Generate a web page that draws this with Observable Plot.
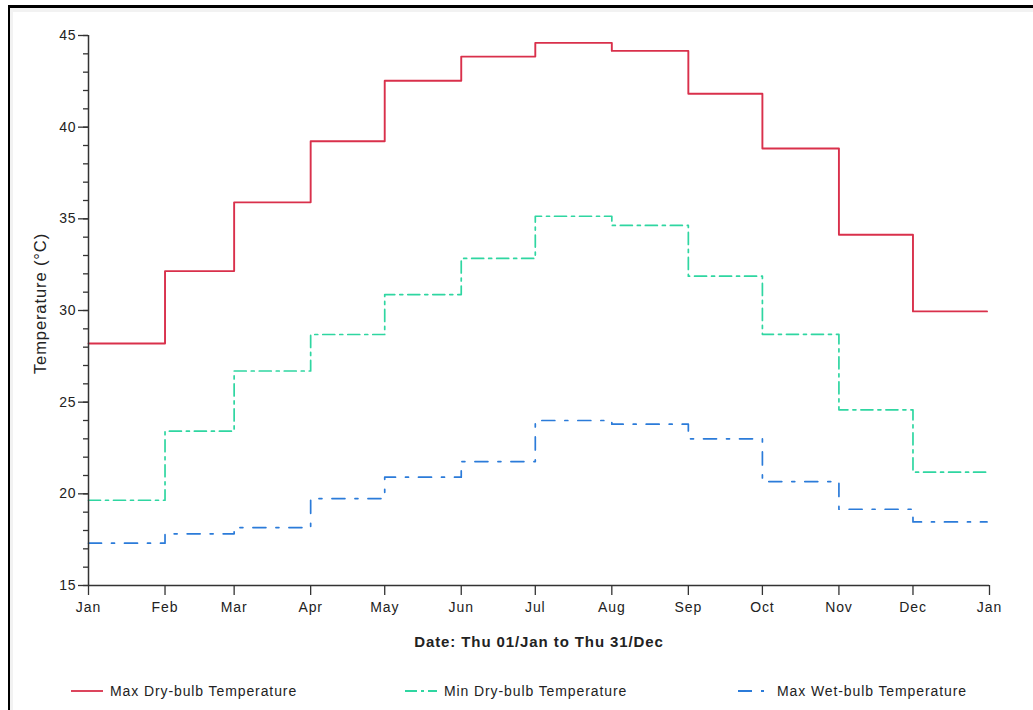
<!DOCTYPE html>
<html>
<head>
<meta charset="utf-8">
<script src="https://cdn.jsdelivr.net/npm/d3@7"></script>
<script src="https://cdn.jsdelivr.net/npm/@observablehq/plot@0.6"></script>
<style>
  html, body { margin: 0; padding: 0; background: #fff; }
  body { width: 1033px; height: 710px; position: relative; overflow: hidden; font-family: "Liberation Sans", Arial, sans-serif; }
  #frame { position: absolute; left: 8px; top: 5px; width: 1040px; height: 720px; border-left: 2px solid #000; border-top: 3px solid #000; box-sizing: border-box; }
  #frame::before { content: ""; position: absolute; left: 0; top: 0; right: 0; height: 4px; background: #f2f2f2; }
  #frame::after { content: ""; position: absolute; left: 0; top: 0; bottom: 0; width: 3px; background: #f2f2f2; }
  #chart { position: absolute; left: 0; top: 0; }
  #chart svg text { letter-spacing: 0.9px; }
  #legend { position: absolute; left: 0; top: 681px; width: 1033px; height: 20px; font-size: 14px; letter-spacing: 0.9px; color: #222; }
  .item { position: absolute; top: 0; display: flex; align-items: center; height: 20px; }
  .item svg { margin-right: 7px; }
</style>
</head>
<body>
<div id="frame"></div>
<div id="chart"></div>
<div id="legend"></div>
<script>
// ---- data ----
const monthStarts = ["2015-01-01","2015-02-01","2015-03-01","2015-04-01","2015-05-01","2015-06-01",
                     "2015-07-01","2015-08-01","2015-09-01","2015-10-01","2015-11-01","2015-12-01"];
const endDate = "2015-12-31";
const tickDates = [...monthStarts, "2016-01-01"];
const tickLabels = ["Jan","Feb","Mar","Apr","May","Jun","Jul","Aug","Sep","Oct","Nov","Dec","Jan"];
const maxDryBulb = [28.2, 32.15, 35.9, 39.23, 42.53, 43.85, 44.6, 44.16, 41.82, 38.84, 34.13, 29.95];
const minDryBulb = [19.65, 23.42, 26.7, 28.69, 30.87, 32.84, 35.14, 34.64, 31.87, 28.7, 24.58, 21.18];
const maxWetBulb = [17.31, 17.82, 18.16, 19.74, 20.91, 21.76, 24.0, 23.8, 23.0, 20.67, 19.16, 18.47];
const seriesNames = ["Max Dry-bulb Temperature", "Min Dry-bulb Temperature", "Max Wet-bulb Temperature"];
const seriesColors = ["#d9304b", "#2fd6a1", "#2b7bd9"];
const seriesDash = [null, "12,5,3,5", "13,10,3,10"];
const yMajor = [15, 20, 25, 30, 35, 40, 45];
const yMinor = d3.range(15, 46, 1);
const xTitle = "Date: Thu 01/Jan to Thu 31/Dec";
const yTitle = "Temperature (°C)";

// ---- build tables ----
const parse = d3.utcParse("%Y-%m-%d");
function toSteps(values) {
  const pts = monthStarts.map((d, i) => ({date: parse(d), value: values[i]}));
  pts.push({date: parse(endDate), value: values[values.length - 1]});
  return pts;
}
const allSeries = [maxDryBulb, minDryBulb, maxWetBulb].map(toSteps);
const xDomain = [parse(tickDates[0]), parse(tickDates[tickDates.length - 1])];
const xTicks = tickDates.map(parse);
const labelOf = new Map(xTicks.map((d, i) => [+d, tickLabels[i]]));

const axisColor = "#333";
const plot = Plot.plot({
  width: 1033,
  height: 710,
  marginLeft: 88,
  marginRight: 44,
  marginTop: 35,
  marginBottom: 125,
  style: {fontFamily: "'Liberation Sans', Arial, sans-serif", fontSize: "14px", color: "#333", background: "transparent"},
  x: {type: "utc", domain: xDomain},
  y: {domain: [15, 45]},
  marks: [
    // lines
    ...allSeries.map((data, i) => Plot.line(data, {
      x: "date", y: "value", curve: "step-after",
      stroke: seriesColors[i], strokeWidth: i === 0 ? 1.9 : 1.7,
      strokeDasharray: seriesDash[i] ?? undefined
    })),
    // axis lines
    Plot.ruleX([xDomain[0]], {stroke: axisColor, strokeWidth: 1.5}),
    Plot.ruleY([15], {stroke: axisColor, strokeWidth: 1.5}),
    // y minor & major ticks
    Plot.axisY({ticks: yMinor, tickSize: 5, tickFormat: () => "", stroke: axisColor, strokeWidth: 1.3, label: null}),
    Plot.axisY({ticks: yMajor, tickSize: 10, tickPadding: 2, stroke: axisColor, strokeWidth: 1.3, label: null, fontSize: 14, fill: "#222"}),
    // x ticks
    Plot.axisX({ticks: xTicks, tickSize: 10, tickPadding: 7, tickFormat: d => labelOf.get(+d), stroke: axisColor, strokeWidth: 1.3, label: null, fontSize: 14, fill: "#222"}),
    // titles
    Plot.text([xTitle], {frameAnchor: "bottom", dy: 61, fontWeight: "bold", fontSize: 15, fill: "#222"}),
    Plot.text([yTitle], {frameAnchor: "left", textAnchor: "middle", dx: -48, dy: -7, rotate: -90, fontSize: 16.5, fill: "#222"})
  ]
});
document.getElementById("chart").appendChild(plot);

// ---- legend ----
const legendX = [71, 405, 738];
const legend = document.getElementById("legend");
seriesNames.forEach((name, i) => {
  const div = document.createElement("div");
  div.className = "item";
  div.style.left = legendX[i] + "px";
  const dash = seriesDash[i] ? `stroke-dasharray="${i === 1 ? "12,4,3,4" : "14,9,3,9"}"` : "";
  div.innerHTML = `<svg width="32" height="4"><line x1="0" y1="2" x2="32" y2="2" stroke="${seriesColors[i]}" stroke-width="1.8" ${dash}/></svg><span>${name}</span>`;
  legend.appendChild(div);
});
</script>
</body>
</html>
